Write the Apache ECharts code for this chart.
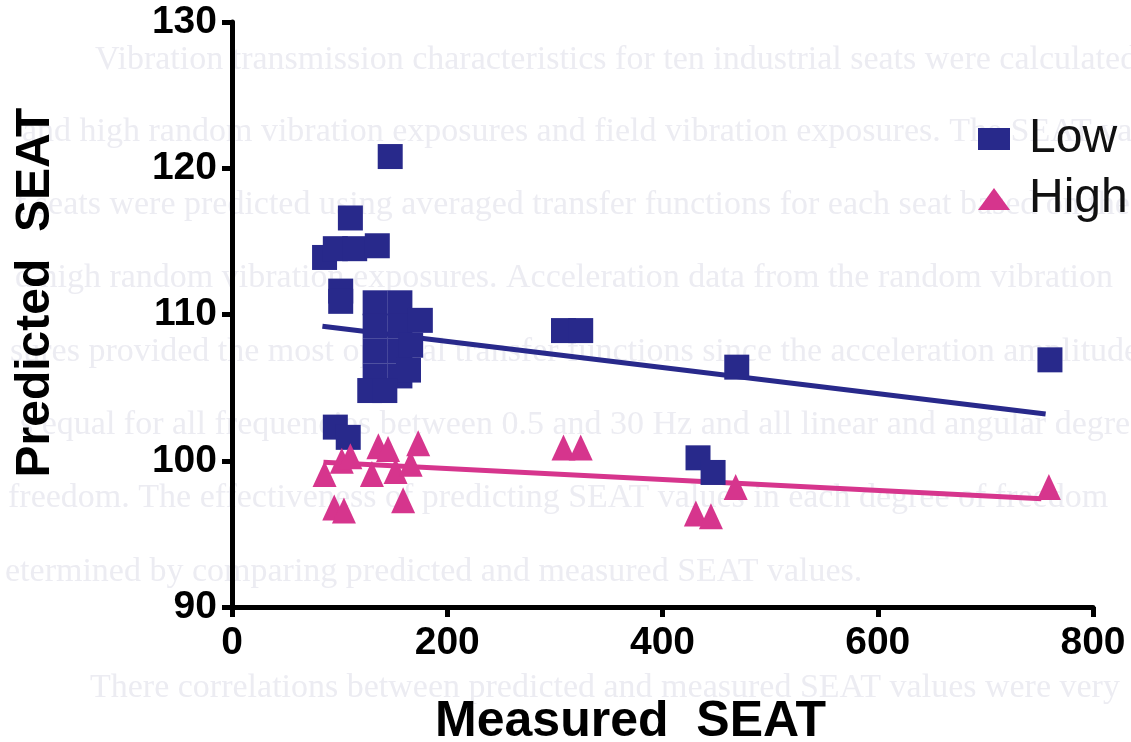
<!DOCTYPE html>
<html>
<head>
<meta charset="utf-8">
<script src="https://cdn.jsdelivr.net/npm/echarts@6/dist/echarts.min.js"></script>
<style>
html,body{margin:0;padding:0;background:#fff;}
#chart{width:1131px;height:742px;}
</style>
</head>
<body>
<div id="chart"></div>
<script>
// ---- data ----
const lowMeasured  = [147, 110, 86, 96, 114, 135, 101, 101,
                      133, 156, 133, 156, 175, 133, 156, 166, 133, 156, 164, 128, 142,
                      96, 108, 308, 324, 469, 760, 433, 447];
const lowPredicted = [120.8, 116.6, 113.9, 114.5, 114.5, 114.7, 111.6, 110.9,
                      110.8, 110.8, 109.2, 109.2, 109.6, 107.5, 107.5, 107.9, 105.8, 105.8, 106.2, 104.8, 104.8,
                      102.3, 101.6, 108.9, 108.9, 106.4, 106.9, 100.2, 99.2];
const highMeasured  = [95, 104, 159, 86, 102, 110, 136, 145, 130, 152, 173, 166, 308, 324, 468, 431, 445, 759];
const highPredicted = [96.8, 96.6, 97.3, 99.1, 100.0, 100.3, 101.0, 100.8, 99.1, 99.3, 101.2, 99.8, 100.9, 100.9, 98.2, 96.4, 96.2, 98.2];
const lowFitX  = [84, 756];
const lowFitY  = [109.2, 103.2];
const highFitX = [85, 752];
const highFitY = [99.9, 97.4];
const xTicks = [0, 200, 400, 600, 800];
const yTicks = [90, 100, 110, 120, 130];
const seriesNames = ['Low', 'High'];
const ghostLines = [
  'Vibration transmission characteristics for ten industrial seats were calculated',
  'and high random vibration exposures and field vibration exposures. The SEAT values',
  'f seats were predicted using averaged transfer functions for each seat based on the',
  'd high random vibration exposures. Acceleration data from the random vibration',
  'sures provided the most optimal transfer functions since the acceleration amplitude',
  's equal for all frequencies between 0.5 and 30 Hz and all linear and angular degrees',
  'freedom. The effectiveness of predicting SEAT values in each degree of freedom',
  'etermined by comparing predicted and measured SEAT values.',
  'There correlations between predicted and measured SEAT values were very'
];
const ghostX = [95, 22, 15, 15, 10, 20, 8, 5, 90];
const ghostY = [60, 132, 205, 278, 352, 425, 498, 572, 688];

// ---- build ----
const pair = (xs, ys) => xs.map((x, i) => [x, ys[i]]);
const BLUE = '#28298b';
const PINK = '#d6358d';
const labelFont = "'Liberation Sans', Arial, sans-serif";
const titleFont = "'Liberation Sans', Arial, sans-serif";

const chart = echarts.init(document.getElementById('chart'), null, {renderer: 'canvas'});
chart.setOption({
  backgroundColor: '#ffffff',
  animation: false,
  graphic: ghostLines.map((t, i) => ({
    type: 'text', x: ghostX[i], y: ghostY[i], z: -10, silent: true,
    style: {text: t, fill: '#ececf2', font: "34px 'Liberation Serif', 'Times New Roman', serif", textVerticalAlign: 'middle'}
  })),
  grid: {left: 232, right: 38, top: 22, bottom: 135, containLabel: false, outerBoundsMode: 'none'},
  legend: {
    orient: 'vertical', left: 973, top: 110, itemWidth: 32, itemHeight: 22, itemGap: 12,
    data: seriesNames,
    textStyle: {fontSize: 48, color: '#111', fontFamily: titleFont, padding: [0, 0, 0, 14]}
  },
  xAxis: {
    type: 'value', min: xTicks[0], max: xTicks[xTicks.length - 1], interval: 200,
    name: 'Measured  SEAT', nameLocation: 'middle', nameGap: 90,
    nameTextStyle: {fontSize: 50, fontWeight: 'bold', color: '#000', fontFamily: titleFont, padding: [0, 64, 0, 0]},
    axisLine: {show: true, lineStyle: {color: '#000', width: 5}},
    axisTick: {show: true, length: 10, lineStyle: {color: '#000', width: 5}},
    axisLabel: {fontSize: 39, fontWeight: 'bold', color: '#000', fontFamily: labelFont, margin: 17},
    splitLine: {show: false}
  },
  yAxis: {
    type: 'value', min: yTicks[0], max: yTicks[yTicks.length - 1], interval: 10,
    name: 'Predicted  SEAT', nameLocation: 'middle', nameGap: 172, nameRotate: 90,
    nameTextStyle: {fontSize: 48, fontWeight: 'bold', color: '#000', fontFamily: titleFont, padding: [0, 0, 0, 44]},
    axisLine: {show: true, lineStyle: {color: '#000', width: 5}},
    axisTick: {show: true, length: 10, lineStyle: {color: '#000', width: 5}},
    axisLabel: {fontSize: 39, fontWeight: 'bold', color: '#000', fontFamily: labelFont, margin: 15},
    splitLine: {show: false}
  },
  series: [
    {name: 'Low', type: 'scatter', symbol: 'rect', symbolSize: 25, z: 3,
     itemStyle: {color: BLUE, opacity: 1}, data: pair(lowMeasured, lowPredicted)},
    {name: 'High', type: 'scatter', symbol: 'triangle', symbolSize: [24, 26], z: 3,
     itemStyle: {color: PINK, opacity: 1}, data: pair(highMeasured, highPredicted)},
    {name: 'Low fit', type: 'line', showSymbol: false, z: 2, lineStyle: {color: BLUE, width: 5},
     data: pair(lowFitX, lowFitY)},
    {name: 'High fit', type: 'line', showSymbol: false, z: 2, lineStyle: {color: PINK, width: 5},
     data: pair(highFitX, highFitY)}
  ]
});
</script>
</body>
</html>
